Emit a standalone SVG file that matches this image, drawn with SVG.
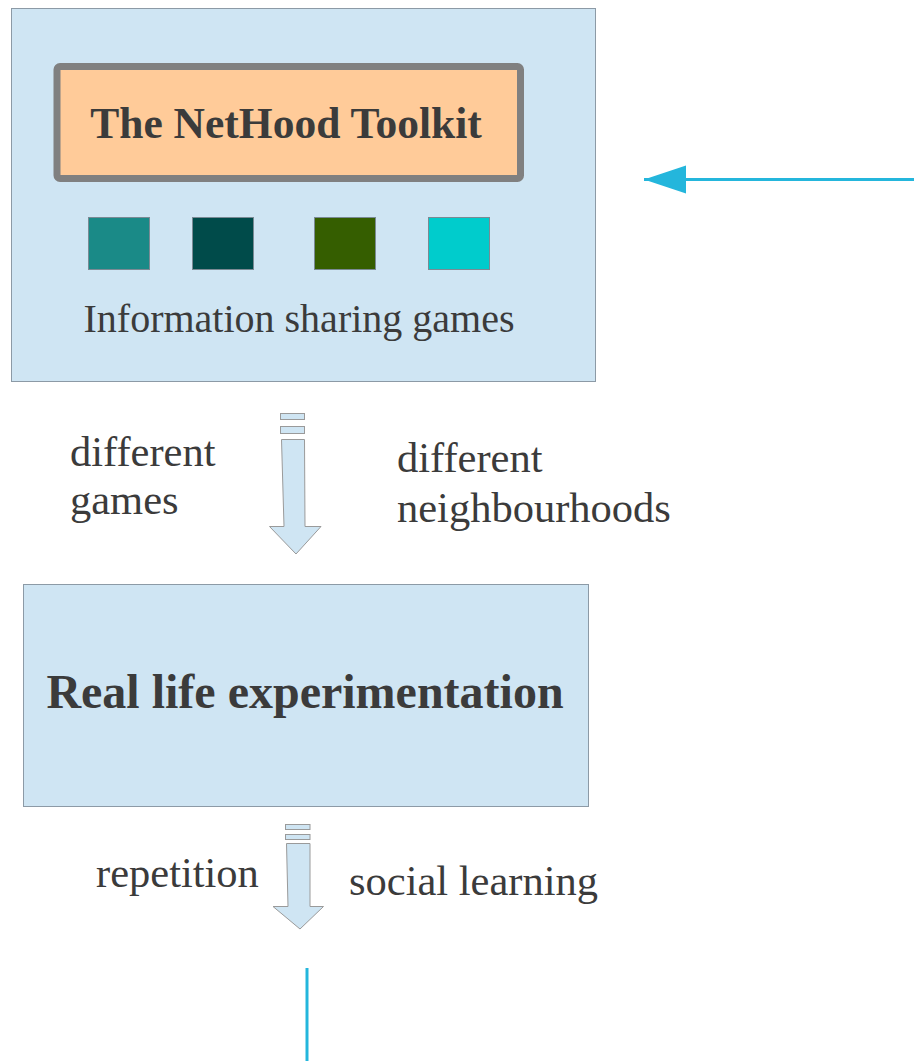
<svg xmlns="http://www.w3.org/2000/svg" width="914" height="1061" viewBox="0 0 914 1061">
  <style>
    .panel { fill: #cfe5f3; stroke: #8c9aa6; stroke-width: 1; }
    .swatch { stroke: #7a8a94; stroke-width: 1; }
    .label { font-family: "Liberation Serif", "Times New Roman", serif; fill: #3b3b3b; }
    .bold { font-weight: bold; }
    .block { fill: #cfe5f3; stroke: #9a9a9a; stroke-width: 1; }
    .link { stroke: #24b6dc; stroke-width: 3; fill: none; }
  </style>
  <defs>
    <marker id="head" markerUnits="userSpaceOnUse" markerWidth="44" markerHeight="30" refX="42" refY="14" orient="auto">
      <path d="M0,0 L42,14 L0,28 Z" fill="#24b6dc"/>
    </marker>
  </defs>

  <rect width="914" height="1061" fill="#ffffff"/>

  <!-- toolkit panel -->
  <g id="toolkit">
    <rect class="panel" x="11.5" y="8.5" width="584" height="373"/>
    <rect x="57" y="66.5" width="463.5" height="112" rx="3" fill="#ffcb99" stroke="#808080" stroke-width="7"/>
    <text class="label bold" x="286" y="138" font-size="43.5" text-anchor="middle">The NetHood Toolkit</text>
    <rect class="swatch" x="88.5" y="217.5" width="61" height="52" fill="#1a8a87"/>
    <rect class="swatch" x="192.5" y="217.5" width="61" height="52" fill="#004b4a"/>
    <rect class="swatch" x="314.5" y="217.5" width="61" height="52" fill="#355e00"/>
    <rect class="swatch" x="428.5" y="217.5" width="61" height="52" fill="#00cccc"/>
    <text class="label" x="299" y="332" font-size="40" text-anchor="middle">Information sharing games</text>
  </g>

  <!-- experimentation panel -->
  <g id="experimentation">
    <rect class="panel" x="23.5" y="584.5" width="565" height="222"/>
    <text class="label bold" x="305" y="708" font-size="48" text-anchor="middle">Real life experimentation</text>
  </g>

  <!-- side labels -->
  <g id="labels-top">
    <text class="label" x="70" y="466" font-size="42.5">different</text>
    <text class="label" x="70" y="514" font-size="42.5">games</text>
    <text class="label" x="397" y="472" font-size="42.5">different</text>
    <text class="label" x="397" y="522" font-size="42.5">neighbourhoods</text>
  </g>
  <g id="labels-bottom">
    <text class="label" x="96" y="887" font-size="42.5">repetition</text>
    <text class="label" x="349" y="895" font-size="42.5">social learning</text>
  </g>

  <!-- connectors -->
  <g id="connectors">
    <g id="block-arrow-1">
      <rect class="block" x="280.5" y="413.5" width="24" height="6"/>
      <rect class="block" x="280.5" y="426.5" width="24" height="7"/>
      <path class="block" d="M281.5,439.5 L304.5,439.5 L305,526.5 L321,526.5 L296,554 L269.5,526.5 L284,526.5 Z"/>
    </g>
    <g id="block-arrow-2">
      <rect class="block" x="285.5" y="824.5" width="24.5" height="5"/>
      <rect class="block" x="285.5" y="834.5" width="24.5" height="5"/>
      <path class="block" d="M286.5,843.5 L310,843.5 L310,906.5 L323.5,906.5 L300,929 L273,906.5 L288,906.5 Z"/>
    </g>
    <line class="link" x1="914" y1="179.5" x2="644" y2="179.5" marker-end="url(#head)"/>
    <line class="link" x1="307" y1="968" x2="307" y2="1061"/>
  </g>
</svg>
